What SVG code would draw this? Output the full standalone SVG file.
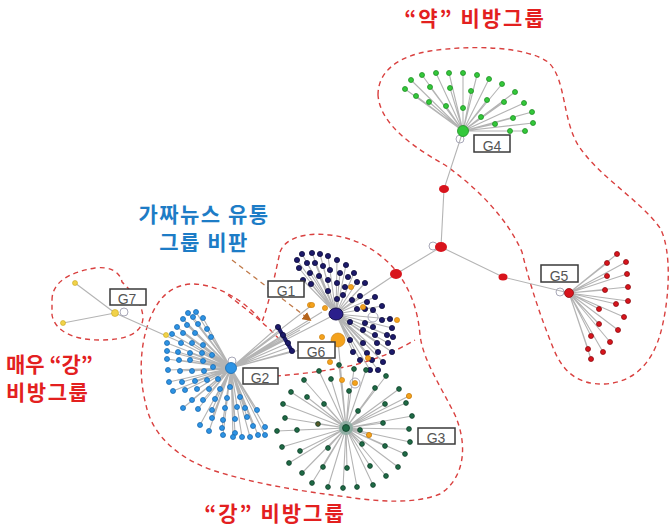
<svg xmlns="http://www.w3.org/2000/svg" width="671" height="529" viewBox="0 0 671 529">
<defs>
<style>
.edge{fill:none;stroke:#b4b4b4;stroke-width:1.1}
.hull{fill:none;stroke:#d9403f;stroke-width:1.4;stroke-dasharray:5 4}
.loop{fill:none;stroke:#a8a8b8;stroke-width:1}
.g4 circle{fill:#33c83a;stroke:#1f8f25;stroke-width:0.8}
.g5 circle{fill:#d8141c;stroke:#8e0c12;stroke-width:0.8}
.g1 circle{fill:#1c1a6a;stroke:#0c0b3c;stroke-width:0.8}
.g2 circle{fill:#2d93e4;stroke:#1a6bb0;stroke-width:0.8}
.g3 circle{fill:#1e6a45;stroke:#0f4029;stroke-width:0.8}
.or circle{fill:#f4a21c;stroke:#c77a0a;stroke-width:0.6}
.yl circle{fill:#f1d24a;stroke:#caa81c;stroke-width:0.6}
.box{fill:#fff;stroke:#3a3a3a;stroke-width:1.5}
.blab{font-family:"Liberation Sans",Arial,sans-serif;font-size:14px;fill:#555;text-anchor:middle}
.kr{font-family:"Noto Sans CJK KR","Noto Sans",sans-serif;font-weight:bold;font-size:21px}
.red{fill:#e3201f}
.blue{fill:#1d7cc6}
</style>
<marker id="arrow" viewBox="0 0 10 10" refX="8" refY="5" markerWidth="7" markerHeight="7" orient="auto">
<path d="M0,0 L10,5 L0,10 Z" fill="#b5651d"/>
</marker>
</defs>
<rect width="671" height="529" fill="#fff"/>

<!-- group outlines -->
<g id="hulls">
<path class="hull" d="M378,95 C378,70 400,56 430,51 C470,45 525,46 548,62 C566,78 562,118 578,145 C598,176 640,200 660,228 C672,250 670,300 660,335 C652,362 635,382 605,384 C578,385 562,372 552,345 C540,315 530,285 522,252 C508,220 480,190 445,165 C415,148 380,125 378,95 Z"/>
<path class="hull" d="M280,252 C285,238 305,232 330,235 C360,238 385,255 400,276 C412,294 418,312 420,335 C423,360 440,385 455,415 C468,445 465,478 440,494 C415,504 380,502 347,497 C300,491 255,484 212,470 C178,458 152,435 146,405 C138,375 140,340 152,314 C160,296 172,286 190,284 C215,283 245,300 262,322 C270,300 276,270 280,252 Z"/>
<path class="hull" d="M258,377 C285,376 320,372 345,367 C370,362 395,352 415,340"/>
<path class="hull" d="M228,295 C240,305 262,320 280,340"/>
<path class="hull" d="M52,300 C52,282 70,272 95,268 C110,266 120,272 122,282 C130,290 142,300 143,318 C142,334 125,340 100,340 C75,340 55,332 52,315 Z"/>
</g>

<!-- connectors -->
<g id="connectors">
<path class="edge" d="M463,131 L444,189 L441,247 L396,274 L336,314 M441,247 L503,277 L569,293"/>
<path class="edge" d="M463,131 L411,80 M463,131 L422,75 M463,131 L436,73 M463,131 L449,73 M463,131 L463,73 M463,131 L477,75 M463,131 L489,79 M463,131 L502,84 M463,131 L515,92 M463,131 L524,103 M463,131 L532,112 M463,131 L533,123 M463,131 L525,131 M463,131 L405,89 M463,131 L416,96 M463,131 L430,87 M463,131 L450,88 M463,131 L471,91 M463,131 L487,100 M463,131 L504,102 M463,131 L429,102 M463,131 L446,106 M463,131 L463,108 M463,131 L481,117 M463,131 L495,124 M463,131 L513,118 M463,131 L510,131"/>
<path class="edge" d="M569,293 L617,254 M569,293 L607,263 M569,293 L626,262 M569,293 L607,276 M569,293 L627,274 M569,293 L605,290 M569,293 L628,287 M569,293 L616,304 M569,293 L628,301 M569,293 L599,309 M569,293 L624,317 M569,293 L599,324 M569,293 L618,330 M569,293 L591,336 M569,293 L610,342 M569,293 L588,349 M569,293 L603,352 M569,293 L591,359"/>
<path class="edge" d="M336,314 L302,254 M336,314 L312,253 M336,314 L320,254 M336,314 L328,256 M336,314 L337,260 M336,314 L346,265 M336,314 L297,260 M336,314 L307,263 M336,314 L315,263 M336,314 L323,266 M336,314 L340,273 M336,314 L354,273 M336,314 L357,282 M336,314 L365,283 M336,314 L299,268 M336,314 L310,273 M336,314 L319,276 M336,314 L303,280 M336,314 L311,284 M336,314 L360,296 M336,314 L375,297 M336,314 L382,306 M336,314 L390,319 M336,314 L392,328 M336,314 L393,337 M336,314 L387,335 M336,314 L388,343 M336,314 L377,343 M336,314 L392,352 M336,314 L378,352 M336,314 L367,353 M336,314 L353,352 M336,314 L383,362 M336,314 L372,360 M336,314 L360,360 M336,314 L370,370 M336,314 L378,370 M336,314 L350,340 M336,314 L363,343"/>
<path class="edge" d="M231,368 L278,327 M231,368 L281,331 M231,368 L283,335 M231,368 L285,339 M231,368 L288,343 M231,368 L290,347 M231,368 L292,351 M231,368 L300,330 M231,368 L310,322 M231,368 L322,312 M231,368 L336,314 M231,368 L338,340 M231,368 L312,305"/>
<path class="edge" d="M231,368 L188,313 M231,368 L196,312 M231,368 L183,319 M231,368 L193,317 M231,368 L203,318 M231,368 L177,327 M231,368 L187,325 M231,368 L198,324 M231,368 L207,329 M231,368 L172,334 M231,368 L183,333 M231,368 L195,333 M231,368 L211,337 M231,368 L167,343 M231,368 L181,343 M231,368 L192,343 M231,368 L203,345 M231,368 L167,351 M231,368 L178,352 M231,368 L190,353 M231,368 L202,353 M231,368 L212,355 M231,368 L167,359 M231,368 L179,360 M231,368 L190,360 M231,368 L203,361 M231,368 L213,367 M231,368 L168,370 M231,368 L180,371 M231,368 L192,371 M231,368 L204,371 M231,368 L169,382 M231,368 L182,382 M231,368 L195,381 M231,368 L207,380 M231,368 L218,379 M231,368 L173,391 M231,368 L185,390 M231,368 L197,389 M231,368 L209,389 M231,368 L220,389 M231,368 L230,387 M231,368 L183,408 M231,368 L192,400 M231,368 L203,400 M231,368 L215,399 M231,368 L227,398 M231,368 L240,397 M231,368 L198,409 M231,368 L212,410 M231,368 L225,408 M231,368 L237,407 M231,368 L245,408 M231,368 L257,410 M231,368 L200,425 M231,368 L212,418 M231,368 L223,420 M231,368 L235,419 M231,368 L247,417 M231,368 L209,431 M231,368 L222,428 M231,368 L235,433 M231,368 L242,437 M231,368 L250,437 M231,368 L253,426 M231,368 L258,435 M231,368 L265,427 M231,368 L265,435 M231,368 L233,437 M231,368 L223,435"/>
<path class="edge" d="M346,428 L319,371 M346,428 L339,365 M346,428 L354,369 M346,428 L366,370 M346,428 L386,376 M346,428 L304,380 M346,428 L331,379 M346,428 L349,391 M346,428 L375,388 M346,428 L399,389 M346,428 L291,392 M346,428 L307,397 M346,428 L324,404 M346,428 L358,411 M346,428 L385,404 M346,428 L406,403 M346,428 L283,404 M346,428 L318,424 M346,428 L383,423 M346,428 L412,416 M346,428 L285,418 M346,428 L297,430 M346,428 L277,431 M346,428 L360,430 M346,428 L409,429 M346,428 L410,442 M346,428 L282,447 M346,428 L300,451 M346,428 L328,448 M346,428 L362,444 M346,428 L385,446 M346,428 L405,454 M346,428 L289,463 M346,428 L323,467 M346,428 L347,468 M346,428 L370,466 M346,428 L398,467 M346,428 L302,473 M346,428 L386,476 M346,428 L312,483 M346,428 L328,487 M346,428 L343,488 M346,428 L357,487 M346,428 L373,485 M346,428 L409,396 M346,428 L369,435 M346,428 L338,340 M346,428 L342,382"/>
<path class="edge" d="M115,313 L75,283 M115,313 L63,323 M115,313 L180,342"/>
<path d="M278,327 L292,351" stroke="#1c1a6a" stroke-width="4" stroke-linecap="round" fill="none"/>
<path d="M232,260 L310,320" stroke="#c07a4a" stroke-width="1.3" stroke-dasharray="5 4" fill="none" marker-end="url(#arrow)"/>
<circle class="loop" cx="460" cy="139" r="4"/>
<circle class="loop" cx="433" cy="246" r="4"/>
<circle class="loop" cx="560" cy="292" r="4"/>
<circle class="loop" cx="232" cy="361" r="4"/>
<circle class="loop" cx="124" cy="312" r="4"/>
<circle class="loop" cx="373" cy="317" r="5"/>
<circle class="loop" cx="355" cy="383" r="5"/>
</g>

<!-- chain nodes between the groups -->
<g id="bridge" class="g5">
<ellipse cx="444" cy="189" rx="5" ry="4" fill="#d8141c"/>
<ellipse cx="441" cy="247" rx="6" ry="5" fill="#d8141c"/>
<ellipse cx="396" cy="274" rx="6" ry="5" fill="#d8141c"/>
<ellipse cx="503" cy="277" rx="4.5" ry="3.5" fill="#d8141c"/>
</g>

<g id="G4" class="g4">
<circle cx="411" cy="80" r="2.5"/><circle cx="422" cy="75" r="2.5"/><circle cx="436" cy="73" r="2.5"/><circle cx="449" cy="73" r="2.5"/><circle cx="463" cy="73" r="2.5"/><circle cx="477" cy="75" r="2.5"/><circle cx="489" cy="79" r="2.5"/><circle cx="502" cy="84" r="2.5"/><circle cx="515" cy="92" r="2.5"/><circle cx="524" cy="103" r="2.5"/><circle cx="532" cy="112" r="2.5"/><circle cx="533" cy="123" r="2.5"/><circle cx="525" cy="131" r="2.5"/><circle cx="405" cy="89" r="2.5"/><circle cx="416" cy="96" r="2.5"/><circle cx="430" cy="87" r="2.5"/><circle cx="450" cy="88" r="2.5"/><circle cx="471" cy="91" r="2.5"/><circle cx="487" cy="100" r="2.5"/><circle cx="504" cy="102" r="2.5"/><circle cx="429" cy="102" r="2.5"/><circle cx="446" cy="106" r="2.5"/><circle cx="463" cy="108" r="2.5"/><circle cx="481" cy="117" r="2.5"/><circle cx="495" cy="124" r="2.5"/><circle cx="513" cy="118" r="2.5"/><circle cx="510" cy="131" r="2.5"/>
<circle cx="463" cy="131" r="5.5"/>
<rect class="box" x="474" y="135" width="36" height="17"/><text class="blab" x="492" y="151">G4</text>
</g>

<g id="G5" class="g5">
<circle cx="617" cy="254" r="2.5"/><circle cx="607" cy="263" r="2.5"/><circle cx="626" cy="262" r="2.5"/><circle cx="607" cy="276" r="2.5"/><circle cx="627" cy="274" r="2.5"/><circle cx="605" cy="290" r="2.5"/><circle cx="628" cy="287" r="2.5"/><circle cx="616" cy="304" r="2.5"/><circle cx="628" cy="301" r="2.5"/><circle cx="599" cy="309" r="2.5"/><circle cx="624" cy="317" r="2.5"/><circle cx="599" cy="324" r="2.5"/><circle cx="618" cy="330" r="2.5"/><circle cx="591" cy="336" r="2.5"/><circle cx="610" cy="342" r="2.5"/><circle cx="588" cy="349" r="2.5"/><circle cx="603" cy="352" r="2.5"/><circle cx="591" cy="359" r="2.5"/>
<circle cx="569" cy="293" r="4.5"/>
<rect class="box" x="541" y="265" width="37" height="17"/><text class="blab" x="559" y="281">G5</text>
</g>

<g id="G1" class="g1">
<circle cx="302" cy="254" r="2.6"/><circle cx="312" cy="253" r="2.6"/><circle cx="320" cy="254" r="2.6"/><circle cx="328" cy="256" r="2.6"/><circle cx="337" cy="260" r="2.6"/><circle cx="346" cy="265" r="2.6"/><circle cx="297" cy="260" r="2.6"/><circle cx="307" cy="263" r="2.6"/><circle cx="315" cy="263" r="2.6"/><circle cx="323" cy="266" r="2.6"/><circle cx="330" cy="270" r="2.6"/><circle cx="340" cy="273" r="2.6"/><circle cx="348" cy="277" r="2.6"/><circle cx="354" cy="273" r="2.6"/><circle cx="357" cy="282" r="2.6"/><circle cx="365" cy="283" r="2.6"/><circle cx="299" cy="268" r="2.6"/><circle cx="310" cy="273" r="2.6"/><circle cx="319" cy="276" r="2.6"/><circle cx="328" cy="280" r="2.6"/><circle cx="337" cy="283" r="2.6"/><circle cx="345" cy="287" r="2.6"/><circle cx="303" cy="280" r="2.6"/><circle cx="311" cy="284" r="2.6"/><circle cx="328" cy="291" r="2.6"/><circle cx="337" cy="299" r="2.6"/><circle cx="343" cy="295" r="2.6"/><circle cx="352" cy="300" r="2.6"/><circle cx="360" cy="296" r="2.6"/><circle cx="367" cy="302" r="2.6"/><circle cx="375" cy="297" r="2.6"/><circle cx="357" cy="309" r="2.6"/><circle cx="365" cy="309" r="2.6"/><circle cx="373" cy="310" r="2.6"/><circle cx="382" cy="306" r="2.6"/><circle cx="390" cy="319" r="2.6"/><circle cx="382" cy="320" r="2.6"/><circle cx="373" cy="327" r="2.6"/><circle cx="365" cy="323" r="2.6"/><circle cx="392" cy="328" r="2.6"/><circle cx="393" cy="337" r="2.6"/><circle cx="350" cy="322" r="2.6"/><circle cx="363" cy="330" r="2.6"/><circle cx="375" cy="335" r="2.6"/><circle cx="387" cy="335" r="2.6"/><circle cx="363" cy="343" r="2.6"/><circle cx="377" cy="343" r="2.6"/><circle cx="388" cy="343" r="2.6"/><circle cx="350" cy="340" r="2.6"/><circle cx="353" cy="352" r="2.6"/><circle cx="367" cy="353" r="2.6"/><circle cx="378" cy="352" r="2.6"/><circle cx="392" cy="352" r="2.6"/><circle cx="360" cy="360" r="2.6"/><circle cx="372" cy="360" r="2.6"/><circle cx="383" cy="362" r="2.6"/><circle cx="370" cy="370" r="2.6"/><circle cx="378" cy="370" r="2.6"/>
<circle cx="278" cy="327" r="2.6"/><circle cx="283" cy="335" r="2.6"/><circle cx="288" cy="343" r="2.6"/><circle cx="292" cy="351" r="2.6"/>
<ellipse cx="336" cy="314" rx="7" ry="6" fill="#2b1f8c" stroke="#120d4a" stroke-width="1"/>
<rect class="box" x="268" y="281" width="36" height="16"/><text class="blab" x="286" y="296">G1</text>
</g>

<g id="G6" class="or">
<circle cx="351" cy="287" r="2.6"/><circle cx="310" cy="305" r="2.6"/><circle cx="363" cy="307" r="2.6"/><circle cx="325" cy="308" r="2.6"/><circle cx="312" cy="305" r="2.6"/><circle cx="322" cy="337" r="2.6"/><circle cx="330" cy="362" r="2.6"/><circle cx="342" cy="380" r="2.6"/><circle cx="368" cy="358" r="2.6"/><circle cx="397" cy="320" r="2.6"/><circle cx="355" cy="383" r="2.6"/>
<circle cx="338" cy="340" r="7"/>
<rect class="box" x="298" y="342" width="37" height="16"/><text class="blab" x="316" y="357">G6</text>
</g>

<g id="G2" class="g2">
<circle cx="188" cy="313" r="2.5"/><circle cx="196" cy="312" r="2.5"/><circle cx="183" cy="319" r="2.5"/><circle cx="193" cy="317" r="2.5"/><circle cx="203" cy="318" r="2.5"/><circle cx="177" cy="327" r="2.5"/><circle cx="187" cy="325" r="2.5"/><circle cx="198" cy="324" r="2.5"/><circle cx="207" cy="329" r="2.5"/><circle cx="172" cy="334" r="2.5"/><circle cx="183" cy="333" r="2.5"/><circle cx="195" cy="333" r="2.5"/><circle cx="211" cy="337" r="2.5"/><circle cx="167" cy="343" r="2.5"/><circle cx="181" cy="343" r="2.5"/><circle cx="192" cy="343" r="2.5"/><circle cx="203" cy="345" r="2.5"/><circle cx="167" cy="351" r="2.5"/><circle cx="178" cy="352" r="2.5"/><circle cx="190" cy="353" r="2.5"/><circle cx="202" cy="353" r="2.5"/><circle cx="212" cy="355" r="2.5"/><circle cx="167" cy="359" r="2.5"/><circle cx="179" cy="360" r="2.5"/><circle cx="190" cy="360" r="2.5"/><circle cx="203" cy="361" r="2.5"/><circle cx="213" cy="367" r="2.5"/><circle cx="168" cy="370" r="2.5"/><circle cx="180" cy="371" r="2.5"/><circle cx="192" cy="371" r="2.5"/><circle cx="204" cy="371" r="2.5"/><circle cx="169" cy="382" r="2.5"/><circle cx="182" cy="382" r="2.5"/><circle cx="195" cy="381" r="2.5"/><circle cx="207" cy="380" r="2.5"/><circle cx="218" cy="379" r="2.5"/><circle cx="173" cy="391" r="2.5"/><circle cx="185" cy="390" r="2.5"/><circle cx="197" cy="389" r="2.5"/><circle cx="209" cy="389" r="2.5"/><circle cx="220" cy="389" r="2.5"/><circle cx="230" cy="387" r="2.5"/><circle cx="183" cy="408" r="2.5"/><circle cx="192" cy="400" r="2.5"/><circle cx="203" cy="400" r="2.5"/><circle cx="215" cy="399" r="2.5"/><circle cx="227" cy="398" r="2.5"/><circle cx="240" cy="397" r="2.5"/><circle cx="198" cy="409" r="2.5"/><circle cx="212" cy="410" r="2.5"/><circle cx="225" cy="408" r="2.5"/><circle cx="237" cy="407" r="2.5"/><circle cx="245" cy="408" r="2.5"/><circle cx="257" cy="410" r="2.5"/><circle cx="200" cy="425" r="2.5"/><circle cx="212" cy="418" r="2.5"/><circle cx="223" cy="420" r="2.5"/><circle cx="235" cy="419" r="2.5"/><circle cx="247" cy="417" r="2.5"/><circle cx="209" cy="431" r="2.5"/><circle cx="222" cy="428" r="2.5"/><circle cx="235" cy="433" r="2.5"/><circle cx="242" cy="437" r="2.5"/><circle cx="250" cy="437" r="2.5"/><circle cx="253" cy="426" r="2.5"/><circle cx="258" cy="435" r="2.5"/><circle cx="265" cy="427" r="2.5"/><circle cx="265" cy="435" r="2.5"/><circle cx="233" cy="437" r="2.5"/><circle cx="223" cy="435" r="2.5"/>
<circle cx="231" cy="368" r="5.5"/>
<rect class="box" x="243" y="368" width="35" height="16"/><text class="blab" x="260" y="383">G2</text>
</g>

<g id="G3" class="g3">
<circle cx="319" cy="371" r="2.4"/><circle cx="339" cy="365" r="2.4"/><circle cx="354" cy="369" r="2.4"/><circle cx="366" cy="370" r="2.4"/><circle cx="386" cy="376" r="2.4"/><circle cx="304" cy="380" r="2.4"/><circle cx="331" cy="379" r="2.4"/><circle cx="349" cy="391" r="2.4"/><circle cx="375" cy="388" r="2.4"/><circle cx="399" cy="389" r="2.4"/><circle cx="291" cy="392" r="2.4"/><circle cx="307" cy="397" r="2.4"/><circle cx="324" cy="404" r="2.4"/><circle cx="358" cy="411" r="2.4"/><circle cx="385" cy="404" r="2.4"/><circle cx="406" cy="403" r="2.4"/><circle cx="283" cy="404" r="2.4"/><circle cx="318" cy="424" r="2.4" style="fill:#5a5a2a"/><circle cx="383" cy="423" r="2.4"/><circle cx="412" cy="416" r="2.4"/><circle cx="285" cy="418" r="2.4"/><circle cx="297" cy="430" r="2.4"/><circle cx="277" cy="431" r="2.4"/><circle cx="360" cy="430" r="2.4"/><circle cx="409" cy="429" r="2.4"/><circle cx="410" cy="442" r="2.4"/><circle cx="282" cy="447" r="2.4"/><circle cx="300" cy="451" r="2.4"/><circle cx="328" cy="448" r="2.4"/><circle cx="362" cy="444" r="2.4"/><circle cx="385" cy="446" r="2.4"/><circle cx="405" cy="454" r="2.4"/><circle cx="289" cy="463" r="2.4"/><circle cx="323" cy="467" r="2.4"/><circle cx="347" cy="468" r="2.4"/><circle cx="370" cy="466" r="2.4"/><circle cx="398" cy="467" r="2.4"/><circle cx="302" cy="473" r="2.4"/><circle cx="386" cy="476" r="2.4"/><circle cx="312" cy="483" r="2.4"/><circle cx="328" cy="487" r="2.4"/><circle cx="343" cy="488" r="2.4"/><circle cx="357" cy="487" r="2.4"/><circle cx="373" cy="485" r="2.4"/>
<circle cx="409" cy="396" r="2.6" style="fill:#f4a21c;stroke:#c77a0a"/><circle cx="369" cy="435" r="2.6" style="fill:#f4a21c;stroke:#c77a0a"/>
<circle cx="346" cy="428" r="7" style="fill:#7fa89a;stroke:none;opacity:0.7"/>
<circle cx="346" cy="428" r="3.5"/>
<rect class="box" x="418" y="428" width="37" height="16"/><text class="blab" x="436" y="443">G3</text>
</g>

<g id="G7" class="yl">
<circle cx="75" cy="283" r="2.5"/><circle cx="63" cy="323" r="2.5"/><circle cx="166" cy="335" r="2.5"/>
<circle cx="115" cy="313" r="3.5"/>
<rect class="box" x="110" y="289" width="36" height="16"/><text class="blab" x="127" y="304">G7</text>
</g>

<!-- captions -->
<g id="captions">
<text class="kr red" x="475" y="26" text-anchor="middle" font-size="20" letter-spacing="2">“약” 비방그룹</text>
<text class="kr blue" x="204" y="222" text-anchor="middle" font-size="20" letter-spacing="1.5">가짜뉴스 유통</text>
<text class="kr blue" x="204" y="250" text-anchor="middle" font-size="20" letter-spacing="1.5">그룹 비판</text>
<text class="kr red" x="6" y="372">매우 “강”</text>
<text class="kr red" x="6" y="400" letter-spacing="1.5">비방그룹</text>
<text class="kr red" x="275" y="521" text-anchor="middle" font-size="20" letter-spacing="2">“강” 비방그룹</text>
</g>
</svg>
